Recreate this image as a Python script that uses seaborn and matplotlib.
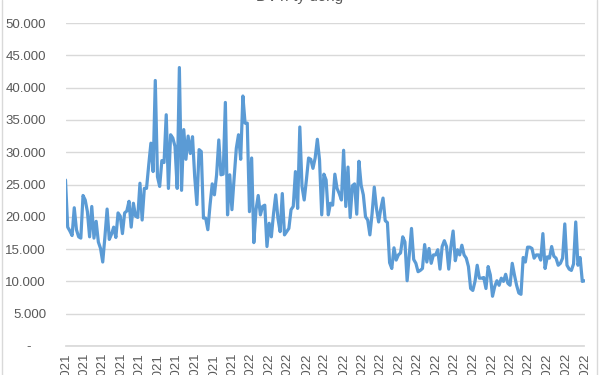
import matplotlib
matplotlib.use("Agg")
import matplotlib.pyplot as plt
import matplotlib.ticker as mticker
from matplotlib.lines import Line2D
import seaborn as sns
import pandas as pd
import numpy as np

# daily trading value, ty dong
values = [
    25700, 18400, 17800, 17100, 21400, 18000, 16900, 16700, 23300, 22600,
    20800, 16900, 21600, 16700, 19300, 16100, 15100, 13000, 16900, 21200,
    16500, 17300, 18400, 16800, 20600, 20100, 17400, 20600, 20900, 22400,
    18400, 22100, 20100, 19900, 25200, 19500, 24400, 24400, 28000, 31400,
    27000, 41100, 26200, 24700, 28700, 28400, 35800, 24400, 32700, 32200,
    30900, 24400, 43100, 24100, 33500, 28900, 32500, 29800, 32400, 26200,
    21900, 30400, 30100, 19800, 19800, 18000, 21800, 25100, 23400, 26500,
    31900, 26500, 26600, 37700, 20300, 26500, 21100, 26000, 30600, 32700,
    28900, 38700, 34500,
    34500, 20800, 29100, 16000, 21100, 23300, 20300, 21600, 21800, 15400,
    19000, 16900, 20500, 23400, 19800, 17700, 23600, 17200, 17700, 18200,
    21100, 21600, 27000, 21300, 33900, 24700, 22600, 25700, 29100, 28900,
    27500, 29100, 32000, 28800, 20300, 26600, 25700, 20300, 22100, 21800,
    26600, 24400, 23600, 22600, 30300, 21600, 27700, 19900, 24800, 25100,
    20400, 28600, 24900, 23400, 20000, 19500, 17200, 20500, 24600, 21300,
    19200, 21300, 22900, 19400, 19100, 12900, 12000, 15200, 13300, 14100,
    14400, 16900, 16100, 10100, 14100, 18200, 13400, 12800, 11500, 11700,
    12000,
    15700, 13000, 15100, 12800, 14100, 14100, 14900, 11900, 15400, 16300,
    15400, 11900, 15400, 17800, 13200, 14900, 14100, 15600, 14100, 13600,
    12300, 8900, 8600, 10000, 12500, 10500, 10500, 10600, 8900, 12300,
    11000, 7700, 9200, 10100, 9400, 10500, 10000, 11100, 9700, 9400,
    12800, 11000, 9400, 8200, 8000, 13700, 13000, 15300, 15300, 15100,
    13600, 14100, 14100, 13300, 17400, 12000, 13800, 13600, 15400, 13900,
    13600, 12500, 12800, 13600, 18900, 12500, 11900, 11700, 12700, 19200,
    12500, 13700, 10000, 10100,
]

tick_labels = [
    "16/09/2021", "28/09/2021", "08/10/2021", "20/10/2021", "01/11/2021",
    "11/11/2021", "23/11/2021", "03/12/2021", "15/12/2021", "27/12/2021",
    "07/01/2022", "19/01/2022", "08/02/2022", "18/02/2022", "02/03/2022",
    "14/03/2022", "24/03/2022", "05/04/2022", "18/04/2022", "28/04/2022",
    "12/05/2022", "24/05/2022", "03/06/2022", "15/06/2022", "27/06/2022",
    "07/07/2022", "19/07/2022", "29/07/2022", "10/08/2022",
]

title = "ĐVT: tỷ đồng"

df = pd.DataFrame({"idx": range(len(values)), "value": values})

sns.set_theme(style="white")
plt.rcParams["font.family"] = ["Liberation Sans", "DejaVu Sans"]

fig = plt.figure(figsize=(6, 3.75), dpi=100)
ax = fig.add_axes([65.5 / 600, 1 - 346 / 375, 519 / 600, 323 / 375])

sns.lineplot(data=df, x="idx", y="value", ax=ax, color="#5B9BD5", linewidth=2.3)

ax.set_ylim(0, 50000)
ax.set_xlim(0, len(values) - 1)
ax.yaxis.set_major_locator(mticker.MultipleLocator(5000))
ax.yaxis.set_major_formatter(mticker.FuncFormatter(
    lambda v, p: "-    " if v == 0 else f"{v:,.0f}".replace(",", ".")))
ax.grid(axis="y", color="#d9d9d9", linewidth=1)
ax.set_axisbelow(True)
for s in ["top", "right", "left"]:
    ax.spines[s].set_visible(False)
ax.spines["bottom"].set_color("#d9d9d9")

ax.set_xticks(np.linspace(0, len(values) - 1, len(tick_labels)))
ax.set_xticklabels(tick_labels, rotation=90, fontsize=9.5, color="#595959")
ax.tick_params(axis="x", length=0, pad=5)
ax.tick_params(axis="y", length=0, pad=14, labelsize=9.5, labelcolor="#595959")
ax.set_xlabel("")
ax.set_ylabel("")

fig.text(0.5, 1 - 1 / 375, title, ha="center", va="baseline",
         fontsize=11, color="#595959")

fig.add_artist(Line2D([1.5 / 600, 1.5 / 600], [0, 1], color="#d9d9d9", lw=1))
fig.add_artist(Line2D([597 / 600, 597 / 600], [0, 1], color="#d9d9d9", lw=1))

fig.savefig("out.png", dpi=100)
